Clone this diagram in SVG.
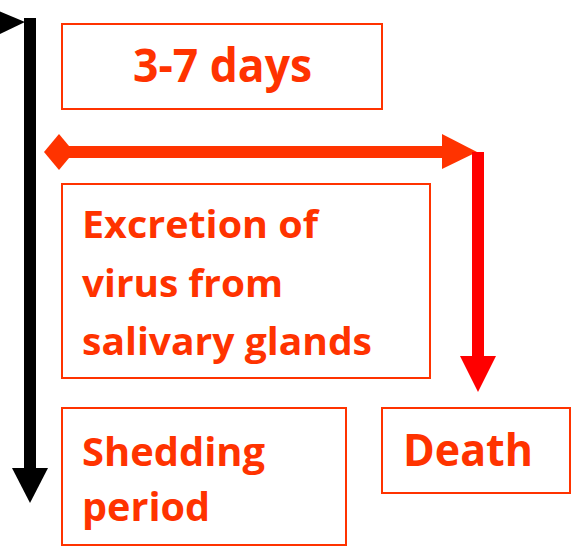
<svg xmlns="http://www.w3.org/2000/svg" width="571" height="547" viewBox="0 0 571 547">
<style>
.box{fill:#fff;stroke:#FF3300;stroke-width:2}
.t{font-family:"Open Sans","Liberation Sans",sans-serif;font-weight:bold;fill:#FF3300}
.m{font-size:37px}
.s{font-size:40px}
.l{font-size:45px}
</style>
<rect width="571" height="547" fill="#fff"/>
<g id="connectors">
<rect x="24" y="18" width="12" height="452" fill="#000"/>
<polygon points="-8,8 25,22 -8,38" fill="#000"/>
<polygon points="12,468 48,468 30,503" fill="#000"/>
<rect x="66" y="146" width="380" height="12" fill="#FF3300"/>
<polygon points="44,152 59,134 74,152 59,170" fill="#FF3300"/>
<polygon points="442,134 477,152 442,169" fill="#FF3300"/>
<rect x="472" y="152" width="12" height="206" fill="#FF0000"/>
<polygon points="460,356 496,356 478,392" fill="#FF0000"/>
</g>
<g id="days"><rect class="box" x="62" y="24" width="320" height="85"/><text class="t" x="133" y="82" font-size="47" textLength="179" lengthAdjust="spacingAndGlyphs">3-7 days</text></g>
<g id="excretion"><rect class="box" x="62" y="184" width="368" height="194"/>
<text class="t m" x="82" y="238" textLength="236" lengthAdjust="spacingAndGlyphs">Excretion of</text>
<text class="t m" x="82" y="297" textLength="201" lengthAdjust="spacingAndGlyphs">virus from</text>
<text class="t m" x="82" y="355" textLength="290" lengthAdjust="spacingAndGlyphs">salivary glands</text></g>
<g id="shedding"><rect class="box" x="62" y="408" width="284" height="137"/>
<text class="t s" x="82" y="466" textLength="183" lengthAdjust="spacingAndGlyphs">Shedding</text>
<text class="t s" x="82" y="521" textLength="128" lengthAdjust="spacingAndGlyphs">period</text></g>
<g id="death"><rect class="box" x="382" y="408" width="188" height="85"/>
<text class="t l" x="403" y="466" textLength="130" lengthAdjust="spacingAndGlyphs">Death</text></g>
</svg>
